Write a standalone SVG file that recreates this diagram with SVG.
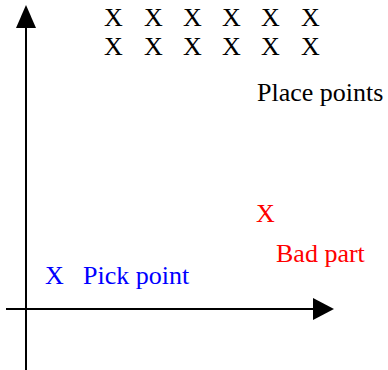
<svg xmlns="http://www.w3.org/2000/svg" width="388" height="370" viewBox="0 0 388 370">
  <style>
    .axis { stroke: #000; stroke-width: 2; fill: none; }
    .head { fill: #000; }
    text { font-family: "Liberation Serif", "Times New Roman", serif; font-size: 26px; }
    .place { fill: #000; }
    .bad { fill: #ff0000; }
    .pick { fill: #0000ff; }
  </style>
  <rect width="388" height="370" fill="#fff"/>
  <!-- coordinate axes -->
  <g id="connectors">
    <line class="axis" x1="26" y1="26" x2="26" y2="370"/>
    <polygon class="head" points="26,5 16,28 36,28"/>
    <line class="axis" x1="6" y1="309" x2="314" y2="309"/>
    <polygon class="head" points="334,309 313,298 313,320"/>
  </g>
  <!-- grid of place points -->
  <g id="place-points" class="place">
    <text x="104" y="26">X</text>
    <text x="144" y="26">X</text>
    <text x="183" y="26">X</text>
    <text x="222" y="26">X</text>
    <text x="261" y="26">X</text>
    <text x="301" y="26">X</text>
    <text x="104" y="55">X</text>
    <text x="144" y="55">X</text>
    <text x="183" y="55">X</text>
    <text x="222" y="55">X</text>
    <text x="261" y="55">X</text>
    <text x="301" y="55">X</text>
    <text x="257" y="101">Place points</text>
  </g>
  <g id="bad-part" class="bad">
    <text x="256" y="222">X</text>
    <text x="276" y="262">Bad part</text>
  </g>
  <g id="pick-point" class="pick">
    <text x="45" y="284">X</text>
    <text x="83" y="284">Pick point</text>
  </g>
</svg>
